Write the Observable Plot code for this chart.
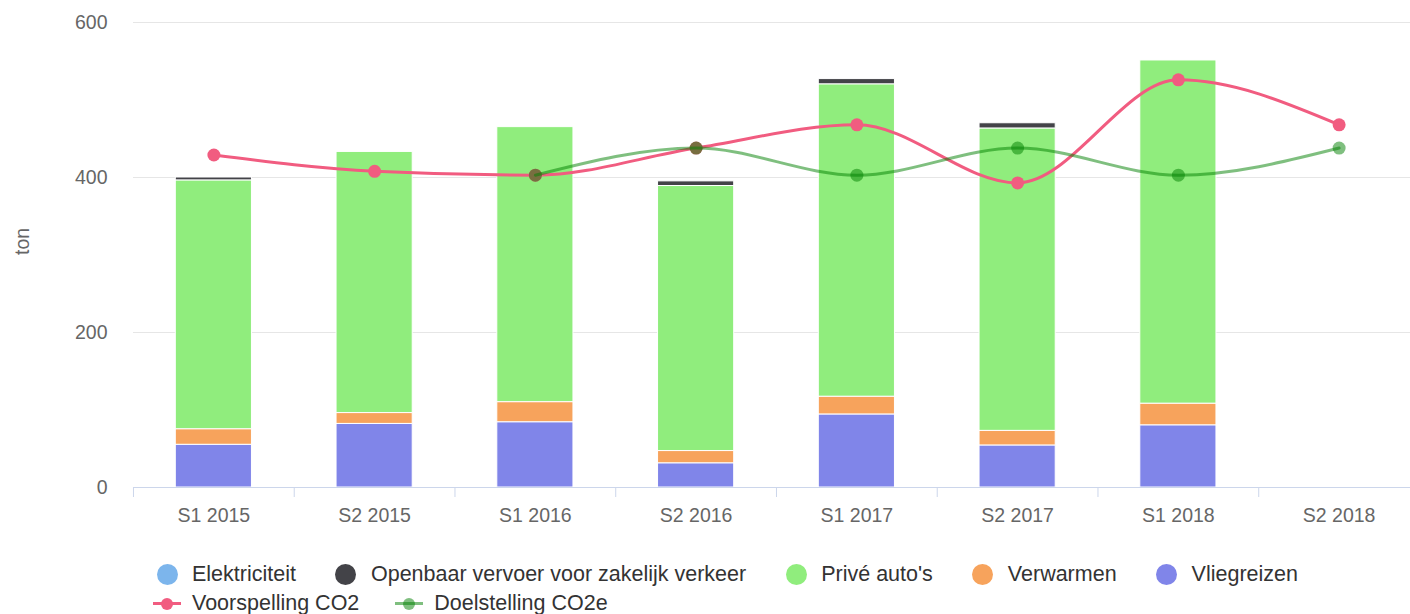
<!DOCTYPE html>
<html>
<head>
<meta charset="utf-8">
<script src="https://cdn.jsdelivr.net/npm/d3@7"></script>
<script src="https://cdn.jsdelivr.net/npm/@observablehq/plot@0.6"></script>
<style>
  html, body { margin: 0; padding: 0; background: #fff; overflow: hidden; width: 1410px; height: 614px; }
  #wrap { position: relative; width: 1410px; height: 614px; overflow: hidden; }
  #chart { position: absolute; left: 0; top: 0; width: 1419px; }
  #chart svg { max-width: none !important; height: 540px !important; width: 1419px !important; }
  .legend { position: absolute; left: 153px; font-family: "Liberation Sans", Arial, Helvetica, sans-serif; font-size: 21.5px; color: #333; display: flex; align-items: center; white-space: nowrap; }
  .item { display: flex; align-items: center; margin-right: 36px; }
  .sym { width: 28px; height: 22px; position: relative; margin-right: 11px; }
  .sym .c { position: absolute; left: 3.5px; top: 0px; width: 21px; height: 21px; border-radius: 50%; }
  .sym .l { position: absolute; left: 0; top: 9.5px; width: 28px; height: 3px; }
  .sym .d { position: absolute; left: 8px; top: 5px; width: 12px; height: 12px; border-radius: 50%; }
</style>
</head>
<body>
<div id="wrap">
  <div id="chart"></div>
  <div class="legend" id="row1" style="top:562px"></div>
  <div class="legend" id="row2" style="top:591px"></div>
</div>
<script>
const categories = ["S1 2015", "S2 2015", "S1 2016", "S2 2016", "S1 2017", "S2 2017", "S1 2018", "S2 2018"];

const stackSeries = ["Elektriciteit", "Openbaar vervoer voor zakelijk verkeer", "Privé auto's", "Verwarmen", "Vliegreizen"];
const elektriciteit = [0, 0, 0, 0, 0, 0, 0, 0];
const openbaar = [4, 0, 0, 6, 7, 7, 0, 0];
const prive = [321, 337, 355, 342, 403, 390, 443, 0];
const verwarmen = [20, 14, 26, 16, 23, 19, 28, 0];
const vliegreizen = [55, 82, 84, 31, 94, 54, 80, 0];

const lineSeries = ["Voorspelling CO2", "Doelstelling CO2e"];
const voorspelling = [429, 408, 403, 438, 468, 393, 526, 468];
const doelstelling = [null, null, 403, 438, 403, 438, 403, 438];

const yTicks = [0, 200, 400, 600];
const yTitle = "ton";

const stackColors = ["#7cb5ec", "#434348", "#90ed7d", "#f7a35c", "#8085e9"];
const lineColors = ["#f15c80", "green"];

const stackValues = [elektriciteit, openbaar, prive, verwarmen, vliegreizen];
const bars = [];
stackSeries.forEach((s, si) => {
  categories.forEach((c, ci) => {
    const v = stackValues[si][ci];
    if (v > 0) bars.push({cat: c, series: s, value: v});
  });
});
const lineValues = [voorspelling, doelstelling];
const lines = lineSeries.map((s, si) =>
  categories.map((c, ci) => ({cat: c, series: s, value: lineValues[si][ci]})).filter(d => d.value != null)
);

const font = '"Liberation Sans", Arial, Helvetica, sans-serif';

const chart = Plot.plot({
  width: 1419,
  height: 540,
  marginLeft: 133,
  marginRight: 0,
  marginTop: 22,
  marginBottom: 53,
  style: {fontFamily: font, fontSize: "19.5px", color: "#666", background: "transparent", overflow: "visible", maxWidth: "none"},
  x: {domain: categories, padding: 0, round: false, label: null, tickSize: 0, tickPadding: 21},
  y: {domain: [0, 600], ticks: yTicks, label: null, tickSize: 0, tickPadding: 26},
  color: {domain: stackSeries, range: stackColors},
  marks: [
    Plot.ruleY(yTicks.filter(t => t > 0), {stroke: "#e6e6e6", strokeWidth: 1}),
    Plot.barY(bars, Plot.stackY({
      x: "cat", y: "value", fill: "series",
      order: stackSeries.slice().reverse(),
      stroke: "#fff", strokeWidth: 1,
      insetLeft: 42.3, insetRight: 42.3
    })),
    Plot.ruleY([0], {stroke: "#ccd6eb", strokeWidth: 1}),
    Plot.ruleX(categories, {x: d => d, y1: 0, y2: 0, insetBottom: -10, dx: -80.4, stroke: "#ccd6eb", strokeWidth: 1}),
    Plot.line(lines[0], {x: "cat", y: "value", stroke: lineColors[0], strokeWidth: 3, curve: "monotone-x"}),
    Plot.dot(lines[0], {x: "cat", y: "value", fill: lineColors[0], r: 6.5}),
    Plot.line(lines[1], {x: "cat", y: "value", stroke: lineColors[1], strokeOpacity: 0.5, strokeWidth: 3, curve: "monotone-x"}),
    Plot.dot(lines[1], {x: "cat", y: "value", fill: lineColors[1], fillOpacity: 0.5, r: 6.5}),
    Plot.text([yTitle], {frameAnchor: "left", dx: -111, rotate: -90, fill: "#666", fontSize: 19.5})
  ]
});
document.getElementById("chart").appendChild(chart);

function addItem(row, html, label) {
  const item = document.createElement("div");
  item.className = "item";
  item.innerHTML = `<div class="sym">${html}</div><span>${label}</span>`;
  row.appendChild(item);
}
const row1 = document.getElementById("row1");
stackSeries.forEach((s, i) => addItem(row1, `<div class="c" style="background:${stackColors[i]}"></div>`, s));
const row2 = document.getElementById("row2");
lineSeries.forEach((s, i) => addItem(row2,
  `<div class="l" style="background:${lineColors[i]};opacity:${i ? 0.5 : 1}"></div><div class="d" style="background:${lineColors[i]};opacity:${i ? 0.5 : 1}"></div>`, s));
</script>
</body>
</html>
